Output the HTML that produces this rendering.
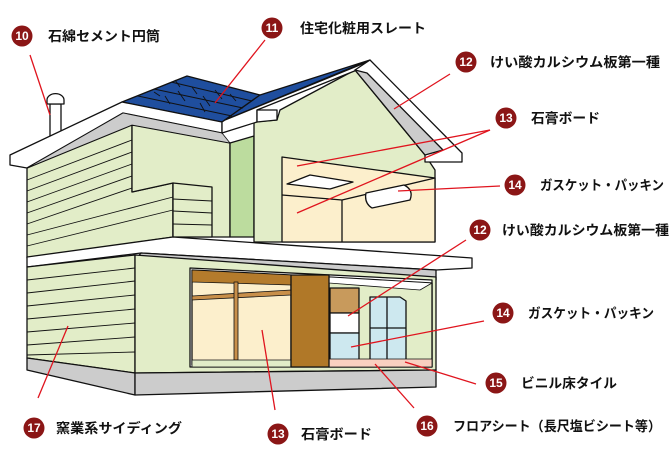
<!DOCTYPE html>
<html><head><meta charset="utf-8"><style>
html,body{margin:0;padding:0;background:#fff;width:670px;height:467px;overflow:hidden}
svg{display:block}
text{font-family:"Liberation Sans","Noto Sans CJK JP",sans-serif;font-size:13.5px;fill:#111;font-weight:bold}
.n{fill:#fff;font-size:12px;text-anchor:middle;font-weight:bold}
</style></head><body>
<svg width="670" height="467" viewBox="0 0 670 467" xmlns="http://www.w3.org/2000/svg">
<g stroke="#111" stroke-width="1.3" stroke-linejoin="round">
<rect x="50" y="104" width="11" height="32" fill="#fff"/>
<path d="M47 104 h17 v-4 a8 6 0 0 0 -17 0z" fill="#fff"/>
<polygon points="27,168 132,125 132,192 173,183 173,237 27,258" fill="#e2edc8"/>
<g stroke-width="0.9">
<line x1="27" y1="180" x2="132" y2="140"/><line x1="27" y1="191" x2="132" y2="152"/><line x1="27" y1="202" x2="132" y2="164"/><line x1="27" y1="213" x2="132" y2="176"/><line x1="27" y1="224" x2="132" y2="188"/><line x1="27" y1="235" x2="173" y2="197"/><line x1="27" y1="246" x2="173" y2="210"/>
</g>
<polygon points="132,125 230,143 230,237 173,237 173,183 132,192" fill="#e2edc8"/>
<polygon points="173,183 212,187 212,237 173,237" fill="#e2edc8"/>
<g stroke-width="0.9"><line x1="173" y1="199" x2="212" y2="201"/><line x1="173" y1="211" x2="212" y2="213"/><line x1="173" y1="224" x2="212" y2="225"/></g>
<polygon points="230,143 254,136 254,237 230,237" fill="#bcdc9e"/>
<polygon points="254,122 277,120 280,110 355,70 425,155 435,170 435,242 254,242" fill="#e2edc8"/>
<polygon points="282,157 435,178 435,242 282,242" fill="#fcefcc"/>
<polyline points="282,195 342,200 435,178" fill="none"/>
<line x1="342" y1="200" x2="342" y2="242"/>
<polygon points="287,184 310,175 353,182 330,189" fill="#fff"/>
<path d="M366 193 L404 185 Q414 190 410 200 L372 208 Q364 203 366 193z" fill="#fff"/>
<polygon points="122,102 187,76 260,95 222,122" fill="#1f4e9e"/>
<polygon points="222,122 260,95 370,60 225,120" fill="#1f4e9e"/>
<g stroke-width="0.9">
<line x1="138" y1="96" x2="232" y2="116"/><line x1="154" y1="89" x2="243" y2="108"/><line x1="171" y1="82" x2="252" y2="101"/>
<line x1="160" y1="96" x2="154" y2="92"/><line x1="185" y1="101" x2="178" y2="91"/><line x1="210" y1="106" x2="203" y2="96"/>
<line x1="197" y1="94" x2="192" y2="87"/><line x1="222" y1="99" x2="215" y2="90"/><line x1="180" y1="87" x2="175" y2="80"/>
<line x1="205" y1="112" x2="200" y2="103"/><line x1="170" y1="104" x2="165" y2="96"/><line x1="236" y1="101" x2="230" y2="94"/>
</g>
<polygon points="10,155 122,102 222,122 222,133 123,113 27,168 10,165" fill="#fff"/>
<polygon points="27,168 123,113 222,133 230,143 132,125" fill="#ccc" stroke-width="0.8"/>
<polygon points="225,120 367,62 357,70 257,110 257,122 222,133 222,122" fill="#fff"/>
<polygon points="257,110 277,110 277,120 257,122" fill="#fff"/>
<polygon points="367,62 370,60 462,153 462,162 425,162 425,155 355,70" fill="#fff"/>
<polygon points="355,70 367,73 443,150 425,155" fill="#ccc"/>
<polygon points="27,257 173,237 472,258 472,268 436,270 141,253 27,267" fill="#fff"/>
<polygon points="141,253 436,270 436,280 135,260" fill="#ccc"/>
<polygon points="27,267 135,255 135,373 27,358" fill="#e2edc8"/>
<g stroke-width="0.9">
<line x1="27" y1="280" x2="135" y2="268"/><line x1="27" y1="293" x2="135" y2="281"/><line x1="27" y1="306" x2="135" y2="295"/><line x1="27" y1="319" x2="135" y2="309"/><line x1="27" y1="332" x2="135" y2="323"/><line x1="27" y1="345" x2="135" y2="337"/><line x1="27" y1="355" x2="135" y2="352"/>
</g>
<polygon points="27,358 135,373 135,395 27,370" fill="#ccc"/>
<polygon points="135,255 436,277 436,370 135,373" fill="#e2edc8"/>
<polygon points="135,373 436,370 436,387 135,395" fill="#ccc"/>
<polygon points="190,268 432,280 432,367 190,367" fill="#fff"/>
<polygon points="192,270 291,275 291,365 192,365" fill="#fcefcc"/>
<polygon points="192,270 291,275 291,285 192,282" fill="#b47b2c" stroke-width="0.8"/>
<polygon points="192,296 291,290 291,295 192,300" fill="#c88f4a" stroke-width="0.8"/>
<rect x="234" y="282" width="4" height="78" fill="#c88f4a" stroke-width="0.8"/>
<rect x="192" y="360" width="99" height="7" fill="#e2edc8" stroke-width="0.8"/>
<polygon points="329,277 432,283 432,367 329,367" fill="#e2edc8"/>
<polygon points="329,277 432,283 420,290 329,283" fill="#fff" stroke-width="0.8"/>
<rect x="330" y="288" width="29" height="25" fill="#c89a5c"/>
<rect x="330" y="313" width="29" height="20" fill="#fff"/>
<rect x="330" y="333" width="29" height="27" fill="#cde8ef"/>
<path d="M370 297 h30 l6 4 v59 h-36z" fill="#cde8ef"/>
<line x1="370" y1="328" x2="406" y2="328"/><line x1="387" y1="297" x2="387" y2="360"/>
<rect x="329" y="359" width="103" height="8" fill="#f9d0c0" stroke-width="0.8"/>
<rect x="291" y="275" width="38" height="92" fill="#b07828"/>
</g>
<g stroke="#e0141e" stroke-width="1.3" fill="none">
<line x1="30" y1="55" x2="50" y2="115"/>
<line x1="265" y1="40" x2="215" y2="103"/>
<line x1="450" y1="74" x2="394" y2="109"/>
<line x1="490" y1="130" x2="297" y2="166"/>
<line x1="490" y1="130" x2="297" y2="213"/>
<line x1="500" y1="186" x2="398" y2="191"/>
<line x1="466" y1="240" x2="348" y2="316"/>
<line x1="484" y1="321" x2="351" y2="347"/>
<line x1="476" y1="384" x2="405" y2="362"/>
<line x1="414" y1="408" x2="375" y2="364"/>
<line x1="38" y1="398" x2="68" y2="326"/>
<line x1="275" y1="410" x2="262" y2="330"/>
</g>
<g fill="#8b1616">
<circle cx="22" cy="36" r="10.5"/><circle cx="272" cy="28" r="10.5"/><circle cx="466" cy="62" r="10.5"/>
<circle cx="506" cy="118" r="10.5"/><circle cx="515" cy="185" r="10.5"/><circle cx="480" cy="230" r="10.5"/>
<circle cx="503" cy="313" r="10.5"/><circle cx="496" cy="383" r="10.5"/><circle cx="427" cy="426" r="10.5"/>
<circle cx="34" cy="428" r="10.5"/><circle cx="278" cy="434" r="10.5"/>
</g>
<text class="n" x="22" y="40">10</text><text class="n" x="272" y="32">11</text><text class="n" x="466" y="66">12</text>
<text class="n" x="506" y="122">13</text><text class="n" x="515" y="189">14</text><text class="n" x="480" y="234">12</text>
<text class="n" x="503" y="317">14</text><text class="n" x="496" y="387">15</text><text class="n" x="427" y="430">16</text>
<text class="n" x="34" y="432">17</text><text class="n" x="278" y="438">13</text>
<g style="" >
<text x="48" y="41" textLength="112" lengthAdjust="spacingAndGlyphs">石綿セメント円筒</text>
<text x="300" y="33" textLength="126" lengthAdjust="spacingAndGlyphs">住宅化粧用スレート</text>
<text x="490" y="67" textLength="170" lengthAdjust="spacingAndGlyphs">けい酸カルシウム板第一種</text>
<text x="531" y="123" textLength="69" lengthAdjust="spacingAndGlyphs">石膏ボード</text>
<text x="540" y="190" textLength="124" lengthAdjust="spacingAndGlyphs">ガスケット・パッキン</text>
<text x="502" y="235" textLength="167" lengthAdjust="spacingAndGlyphs">けい酸カルシウム板第一種</text>
<text x="528" y="318" textLength="126" lengthAdjust="spacingAndGlyphs">ガスケット・パッキン</text>
<text x="521" y="388" textLength="96" lengthAdjust="spacingAndGlyphs">ビニル床タイル</text>
<text x="453" y="431" textLength="208" lengthAdjust="spacingAndGlyphs">フロアシート（長尺塩ビシート等）</text>
<text x="56" y="433" textLength="126" lengthAdjust="spacingAndGlyphs">窯業系サイディング</text>
<text x="301" y="439" textLength="71" lengthAdjust="spacingAndGlyphs">石膏ボード</text>
</g>
</svg>
</body></html>
